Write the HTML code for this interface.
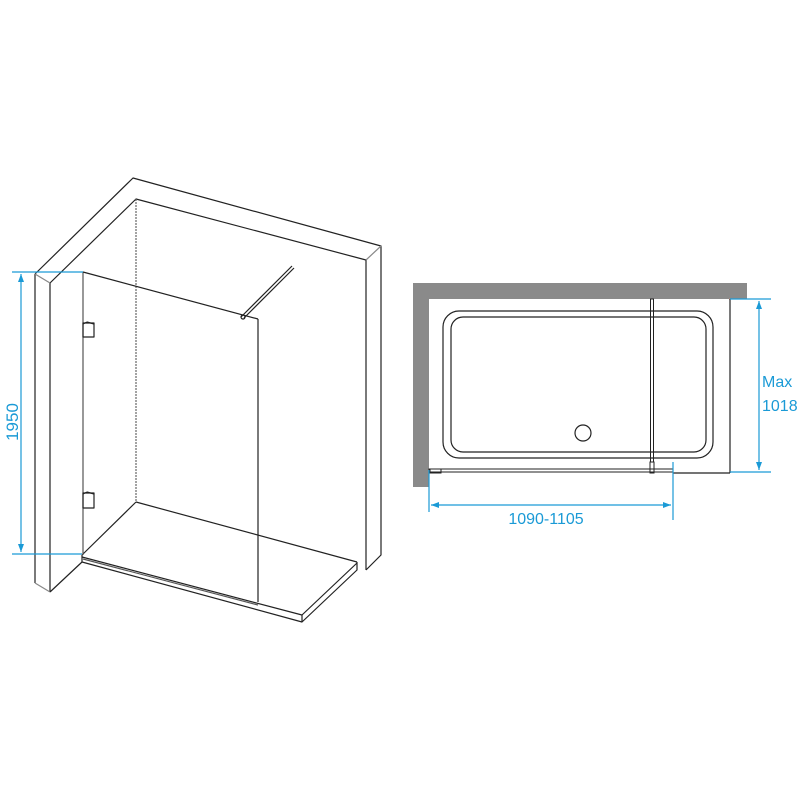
<!DOCTYPE html>
<html><head><meta charset="utf-8"><style>
html,body{margin:0;padding:0;background:#fff;}
svg{display:block;}
text{font-family:"Liberation Sans","DejaVu Sans",sans-serif;fill:#1a9ad6;}
</style></head><body>
<svg width="800" height="800" viewBox="0 0 800 800" xmlns="http://www.w3.org/2000/svg">
<g fill="none" stroke="#222" stroke-width="1.2" stroke-linejoin="round">
  <polyline points="35,274 133,178 381,246 381,555 366,570"/>
  <polyline points="50,283 136,199 366,260 366,570"/>
  <line x1="366" y1="260" x2="381" y2="246" stroke="#888"/>
  <line x1="136" y1="199" x2="136" y2="502" stroke="#666" stroke-dasharray="2,1"/>
  <line x1="136" y1="502" x2="357" y2="562"/>
  <line x1="136" y1="502" x2="82" y2="555"/>
  <line x1="35" y1="274" x2="35" y2="583"/>
  <line x1="50" y1="283" x2="50" y2="592"/>
  <line x1="35" y1="274" x2="50" y2="283" stroke="#888"/>
  <line x1="35" y1="583" x2="50" y2="592" stroke="#888"/>
  <line x1="50" y1="592" x2="82" y2="562"/>
  <polyline points="82,555 82,562 302,622 357,570 357,562"/>
  <polyline points="82,557 302,615 357,563"/>
  <line x1="302" y1="615" x2="302" y2="622"/>
  <line x1="83" y1="272" x2="83" y2="555" stroke="#555"/>
  <line x1="83" y1="272" x2="258" y2="319"/>
  <line x1="258" y1="319" x2="258" y2="602"/>
  <line x1="83" y1="559" x2="258" y2="605" stroke="#555"/>
  <rect x="83" y="323" width="11" height="14"/>
  <line x1="83" y1="324" x2="87" y2="322"/><line x1="87" y1="322" x2="94" y2="324"/>
  <rect x="83" y="493" width="11" height="15"/>
  <line x1="83" y1="494" x2="87" y2="492"/><line x1="87" y1="492" x2="94" y2="494"/>
  <line x1="241" y1="317" x2="292" y2="266"/>
  <line x1="244" y1="318" x2="294" y2="268"/>
  <circle cx="243" cy="317" r="2"/>
</g>
<g stroke="#1a9ad6" stroke-width="1.2" fill="#1a9ad6">
  <line x1="12" y1="272" x2="83" y2="272"/>
  <line x1="12" y1="554" x2="82" y2="554"/>
  <line x1="21" y1="274" x2="21" y2="552"/>
  <polygon points="21,274 18,282 24,282" stroke="none"/>
  <polygon points="21,552 18,544 24,544" stroke="none"/>
</g>
<text x="0" y="0" font-size="17" text-anchor="middle" transform="translate(18,422) rotate(-90)">1950</text>

<path d="M413,283 H747 V299 H429 V487 H413 Z" fill="#8a8a8a"/>
<line x1="729" y1="299" x2="747" y2="299" stroke="#c98a7a" stroke-width="1"/>
<g fill="none" stroke="#222" stroke-width="1.2">
  <line x1="730" y1="299" x2="730" y2="473"/>
  <line x1="673" y1="473" x2="730" y2="473"/>
  <rect x="443" y="311" width="270" height="147" rx="16"/>
  <rect x="451" y="317" width="255" height="135" rx="12"/>
  <circle cx="583" cy="433" r="8"/>
  <rect x="429" y="469" width="244" height="3" stroke-width="1"/>
  <rect x="650.5" y="299" width="3" height="163" stroke-width="1"/>
  <rect x="650" y="462" width="4" height="11" stroke-width="1"/>
  <rect x="430" y="469" width="11" height="4" stroke-width="1"/>
</g>
<g stroke="#1a9ad6" stroke-width="1.2" fill="#1a9ad6">
  <line x1="730" y1="299" x2="771" y2="299"/>
  <line x1="730" y1="472" x2="771" y2="472"/>
  <line x1="759" y1="301" x2="759" y2="470"/>
  <polygon points="759,301 756,309 762,309" stroke="none"/>
  <polygon points="759,470 756,462 762,462" stroke="none"/>
  <line x1="429" y1="470" x2="429" y2="512"/>
  <line x1="673" y1="462" x2="673" y2="520"/>
  <line x1="431" y1="505" x2="671" y2="505"/>
  <polygon points="431,505 439,502 439,508" stroke="none"/>
  <polygon points="671,505 663,502 663,508" stroke="none"/>
</g>
<text x="762" y="387" font-size="16">Max</text>
<text x="762" y="411" font-size="16">1018</text>
<text x="546" y="524" font-size="16" text-anchor="middle">1090-1105</text>
</svg>
</body></html>
